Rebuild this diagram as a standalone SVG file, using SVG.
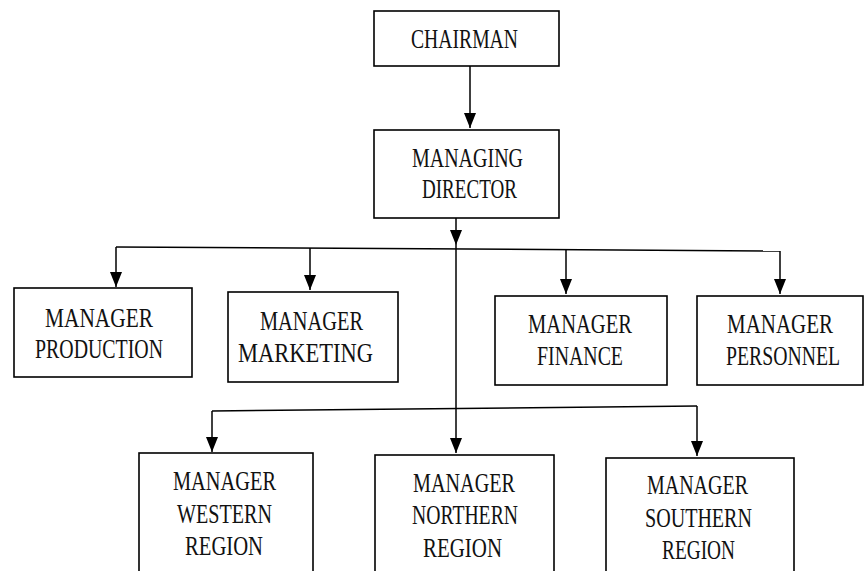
<svg xmlns="http://www.w3.org/2000/svg" width="865" height="571" viewBox="0 0 865 571">
<style>
.box{fill:#fff;stroke:#000;stroke-width:1.6}
.ln{fill:none;stroke:#000;stroke-width:1.5}
text{font-family:'Liberation Serif','DejaVu Serif',serif;font-size:27px;fill:#111;text-anchor:middle}
</style>
<defs>
<marker id="a" markerUnits="userSpaceOnUse" markerWidth="16" markerHeight="12" refX="15" refY="6" orient="auto" viewBox="0 0 16 12">
<path d="M0,0 L15,6 L0,12 Z" fill="#000"/>
</marker>
</defs>
<rect width="865" height="571" fill="#fff"/>
<g id="connectors">
<line class="ln" x1="470" y1="66" x2="470" y2="128" marker-end="url(#a)"/>
<line class="ln" x1="456" y1="218" x2="456" y2="245" marker-end="url(#a)"/>
<line class="ln" x1="456" y1="245" x2="456" y2="453" marker-end="url(#a)"/>
<line class="ln" x1="116" y1="247" x2="780" y2="251"/>
<line class="ln" x1="116" y1="247" x2="116" y2="287" marker-end="url(#a)"/>
<line class="ln" x1="310" y1="248" x2="310" y2="290" marker-end="url(#a)"/>
<line class="ln" x1="566" y1="250" x2="566" y2="294" marker-end="url(#a)"/>
<line class="ln" x1="780" y1="251" x2="780" y2="294" marker-end="url(#a)"/>
<line class="ln" x1="212" y1="411" x2="697" y2="406"/>
<line class="ln" x1="212" y1="411" x2="212" y2="452" marker-end="url(#a)"/>
<line class="ln" x1="697" y1="406" x2="697" y2="456" marker-end="url(#a)"/>
</g>
<g id="chairman">
<rect class="box" x="374" y="11" width="185" height="55"/>
<text font-family="Liberation Serif, serif" x="464.5" y="48" textLength="107" lengthAdjust="spacingAndGlyphs">CHAIRMAN</text>
</g>
<g id="managing-director">
<rect class="box" x="374" y="130" width="185" height="88"/>
<text font-family="Liberation Serif, serif" x="467.5" y="167" textLength="111" lengthAdjust="spacingAndGlyphs">MANAGING</text>
<text font-family="Liberation Serif, serif" x="469.5" y="198" textLength="95" lengthAdjust="spacingAndGlyphs">DIRECTOR</text>
</g>
<g id="manager-production">
<rect class="box" x="14" y="288" width="178" height="89"/>
<text x="99" y="327" textLength="108" lengthAdjust="spacingAndGlyphs">MANAGER</text>
<text x="99" y="358" textLength="128" lengthAdjust="spacingAndGlyphs">PRODUCTION</text>
</g>
<g id="manager-marketing">
<rect class="box" x="228" y="292" width="170" height="90"/>
<text x="311.5" y="330" textLength="103" lengthAdjust="spacingAndGlyphs">MANAGER</text>
<text x="305.5" y="362" textLength="135" lengthAdjust="spacingAndGlyphs">MARKETING</text>
</g>
<g id="manager-finance">
<rect class="box" x="495" y="296" width="172" height="89"/>
<text x="580" y="333" textLength="104" lengthAdjust="spacingAndGlyphs">MANAGER</text>
<text x="580" y="365" textLength="86" lengthAdjust="spacingAndGlyphs">FINANCE</text>
</g>
<g id="manager-personnel">
<rect class="box" x="697" y="296" width="166" height="89"/>
<text x="780" y="333" textLength="106" lengthAdjust="spacingAndGlyphs">MANAGER</text>
<text x="783" y="365" textLength="114" lengthAdjust="spacingAndGlyphs">PERSONNEL</text>
</g>
<g id="manager-western-region">
<rect class="box" x="139" y="453" width="174" height="130"/>
<text x="224.5" y="490" textLength="103" lengthAdjust="spacingAndGlyphs">MANAGER</text>
<text x="224.5" y="523" textLength="95" lengthAdjust="spacingAndGlyphs">WESTERN</text>
<text x="224" y="555" textLength="78" lengthAdjust="spacingAndGlyphs">REGION</text>
</g>
<g id="manager-northern-region">
<rect class="box" x="375" y="455" width="179" height="130"/>
<text x="464" y="492" textLength="102" lengthAdjust="spacingAndGlyphs">MANAGER</text>
<text x="465" y="524" textLength="106" lengthAdjust="spacingAndGlyphs">NORTHERN</text>
<text x="462.5" y="557" textLength="79" lengthAdjust="spacingAndGlyphs">REGION</text>
</g>
<g id="manager-southern-region">
<rect class="box" x="606" y="458" width="188" height="130"/>
<text x="697.5" y="494" textLength="101" lengthAdjust="spacingAndGlyphs">MANAGER</text>
<text x="698.5" y="527" textLength="107" lengthAdjust="spacingAndGlyphs">SOUTHERN</text>
<text x="698.5" y="559" textLength="73" lengthAdjust="spacingAndGlyphs">REGION</text>
</g>
</svg>
